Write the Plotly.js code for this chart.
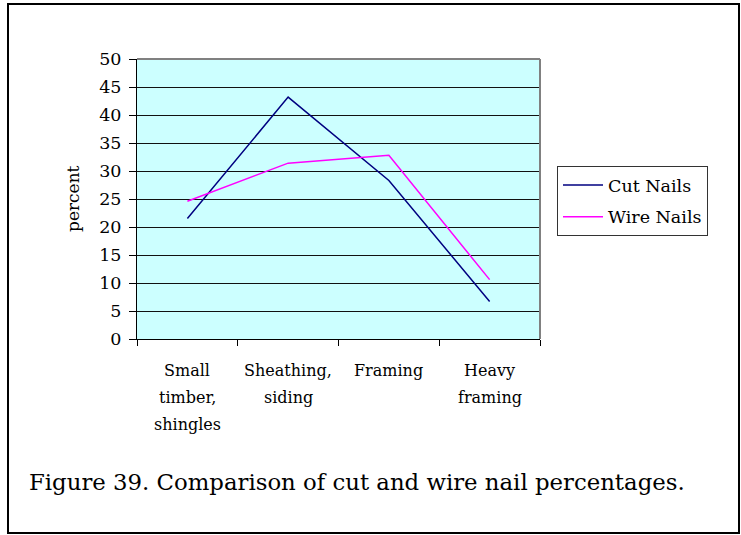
<!DOCTYPE html>
<html>
<head>
<meta charset="utf-8">
<script src="https://cdn.plot.ly/plotly-3.0.1.min.js"></script>
<style>
  html, body { margin: 0; padding: 0; background: #fff; }
  #wrap { position: relative; width: 741px; height: 535px; }
  #chart { width: 741px; height: 535px; }
  #frame { position: absolute; left: 7px; top: 3px; width: 733px; height: 531px;
           border: 2px solid #000; box-sizing: border-box; pointer-events: none; }
</style>
</head>
<body>
<div id="wrap">
  <div id="chart"></div>
  <div id="frame"></div>
</div>
<script>
const categories = ["Small timber, shingles", "Sheathing, siding", "Framing", "Heavy framing"];
const tickLabelLines = [["Small", "timber,", "shingles"], ["Sheathing,", "siding"], ["Framing"], ["Heavy", "framing"]];
const cutNails = [21.5, 43.2, 28.3, 6.7];
const wireNails = [24.6, 31.4, 32.8, 10.6];
const seriesNames = ["Cut Nails", "Wire Nails"];
const yTickVals = [0, 5, 10, 15, 20, 25, 30, 35, 40, 45, 50];
const captionText = "Figure 39. Comparison of cut and wire nail percentages.";
const yTitle = "percent";

const FONT = "DejaVu Serif";

const traces = [
  { x: categories, y: cutNails, name: seriesNames[0], type: "scatter", mode: "lines",
    line: { color: "#000080", width: 1.5 }, legendgroup: "a" },
  { x: categories, y: wireNails, name: seriesNames[1], type: "scatter", mode: "lines",
    line: { color: "#FF00FF", width: 1.5 }, legendgroup: "b" }
];

const annotations = [];
tickLabelLines.forEach((lines, i) => {
  lines.forEach((t, j) => {
    annotations.push({ x: categories[i], y: 0, xref: "x", yref: "y", text: t, showarrow: false,
      xanchor: "center", yanchor: "middle", yshift: -31 - 27 * j,
      font: { family: FONT, size: 16, color: "#000" } });
  });
});
annotations.push({ x: (73 - 137) / 403, y: 0.5, xref: "paper", yref: "paper", text: yTitle,
  textangle: -90, showarrow: false, xanchor: "center", yanchor: "middle",
  font: { family: FONT, size: 17, color: "#000" } });
annotations.push({ x: (27 - 137) / 403, y: (339 - 482) / 280, xref: "paper", yref: "paper",
  text: captionText, showarrow: false, xanchor: "left", yanchor: "middle",
  font: { family: FONT, size: 22.8, color: "#000" } });

const layout = {
  width: 741, height: 535, autosize: false,
  margin: { l: 137, r: 201, t: 59, b: 196, pad: 0 },
  paper_bgcolor: "rgba(0,0,0,0)",
  plot_bgcolor: "#CCFFFF",
  showlegend: true,
  font: { family: FONT, size: 17, color: "#000" },
  xaxis: { type: "category", range: [-0.5, 3.5], tickson: "boundaries", ticks: "outside",
    ticklen: 6, tickcolor: "#000", tickwidth: 1, showticklabels: false, showgrid: false,
    showline: true, linecolor: "#000", linewidth: 1, zeroline: false, fixedrange: true },
  yaxis: { range: [0, 50], tickvals: yTickVals, ticks: "outside", ticklen: 7, tickcolor: "#000",
    tickwidth: 1, showgrid: true, gridcolor: "#111", gridwidth: 1, showline: true,
    linecolor: "#000", linewidth: 1, zeroline: false, ticklabelstandoff: 4,
    tickfont: { family: FONT, size: 17.5, color: "#000" }, fixedrange: true },
  legend: { x: (557 - 137) / 403, y: (339 - 166) / 280, xanchor: "left", yanchor: "top",
    bgcolor: "#fff", bordercolor: "#333", borderwidth: 1, tracegroupgap: 6, itemwidth: 40,
    font: { family: FONT, size: 17.5, color: "#000" } },
  shapes: [
    { type: "line", xref: "x domain", yref: "y domain", x0: 0, x1: 1, y0: 1, y1: 1,
      line: { color: "#808080", width: 2 } },
    { type: "line", xref: "x domain", yref: "y domain", x0: 1, x1: 1, y0: 0, y1: 1,
      line: { color: "#808080", width: 2 } }
  ],
  annotations: annotations
};

Plotly.newPlot("chart", traces, layout, { displayModeBar: false, staticPlot: true });
</script>
</body>
</html>
